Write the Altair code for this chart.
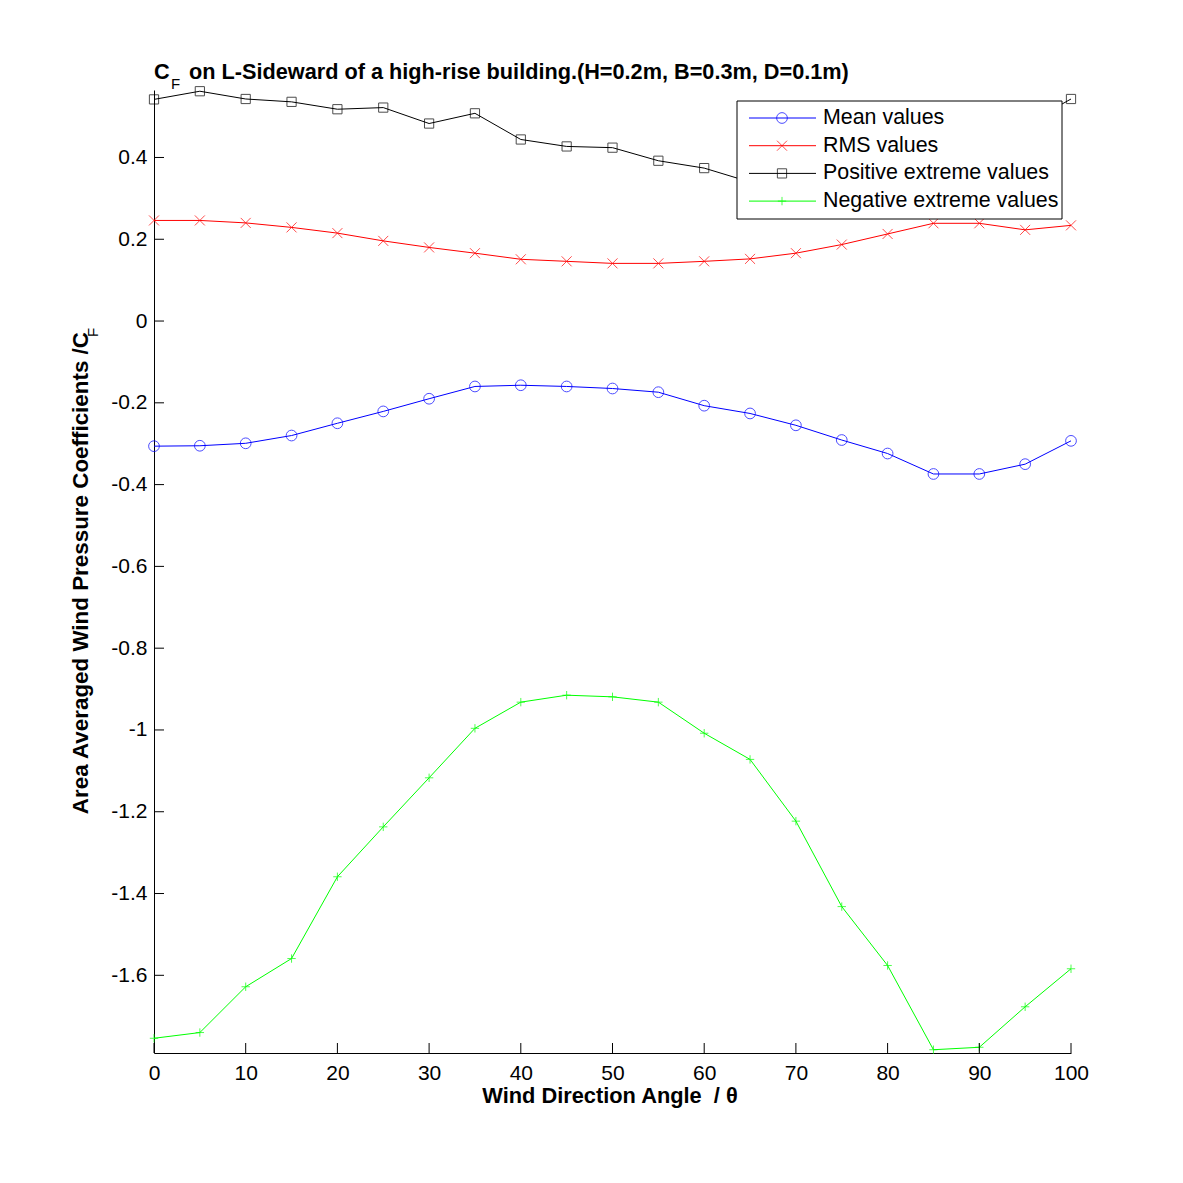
import altair as alt
import pandas as pd

# ---- data ----
angles = [0, 5, 10, 15, 20, 25, 30, 35, 40, 45, 50, 55, 60, 65, 70, 75, 80, 85, 90, 95, 100]
mean_vals = [-0.306, -0.305, -0.299, -0.280, -0.250, -0.221, -0.190, -0.160, -0.157, -0.160, -0.165,
             -0.174, -0.207, -0.226, -0.255, -0.291, -0.324, -0.374, -0.374, -0.350, -0.293]
rms_vals = [0.246, 0.246, 0.240, 0.229, 0.215, 0.196, 0.180, 0.166, 0.151, 0.146, 0.141,
            0.141, 0.146, 0.152, 0.166, 0.187, 0.213, 0.239, 0.239, 0.223, 0.234]
pos_vals = [0.542, 0.562, 0.543, 0.536, 0.518, 0.522, 0.483, 0.508, 0.444, 0.427, 0.424,
            0.392, 0.374, 0.340, 0.330, 0.360, 0.400, 0.440, 0.460, 0.480, 0.543]
neg_vals = [-1.754, -1.740, -1.628, -1.559, -1.359, -1.237, -1.117, -0.996, -0.932, -0.915, -0.919,
            -0.932, -1.008, -1.072, -1.223, -1.432, -1.576, -1.782, -1.776, -1.677, -1.584]

series_names = ["Mean values", "RMS values", "Positive extreme values", "Negative extreme values"]
series_colors = ["#0000ff", "#ff0000", "#000000", "#00ff00"]
series_shapes = ["circle", "M-1,-1L1,1M-1,1L1,-1", "square", "M-1,0H1M0,-1V1"]
series_sizes = [115, 70, 85, 160]

x_ticks = [0, 10, 20, 30, 40, 50, 60, 70, 80, 90, 100]
y_ticks = [-1.6, -1.4, -1.2, -1.0, -0.8, -0.6, -0.4, -0.2, 0.0, 0.2, 0.4]

title_main = "C"
title_sub = "F"
title_rest = "on L-Sideward of a high-rise building.(H=0.2m, B=0.3m, D=0.1m)"
ylabel_main = "Area Averaged Wind Pressure Coefficients /C"
ylabel_sub = "F"
xlabel = "Wind Direction Angle \u00a0/ \u03b8"

# ---- build tables ----
rows = []
for name, vals in zip(series_names, [mean_vals, rms_vals, pos_vals, neg_vals]):
    for a, v in zip(angles, vals):
        rows.append({"angle": a, "value": v, "series": name})
df = pd.DataFrame(rows)
legend_df = pd.DataFrame({"series": series_names, "idx": list(range(len(series_names)))})

W, H = 917, 963
FONT = "Liberation Sans"
TICK_FS = 21

xscale = alt.Scale(domain=[0, 100], nice=False, zero=False)
yscale = alt.Scale(domain=[-1.79, 0.565], nice=False, zero=False)
color = alt.Color("series:N", scale=alt.Scale(domain=series_names, range=series_colors), legend=None)
shape = alt.Shape("series:N", scale=alt.Scale(domain=series_names, range=series_shapes), legend=None)
size = alt.Size("series:N", scale=alt.Scale(domain=series_names, range=series_sizes), legend=None)

lab_expr = "datum.value < 0 ? '-' + format(-datum.value, '~g') : format(datum.value, '~g')"

base = alt.Chart(df)
lines = base.mark_line(strokeWidth=1).encode(
    x=alt.X("angle:Q", scale=xscale,
            axis=alt.Axis(values=x_ticks, title=None, ticks=False, grid=False, labelPadding=9,
                          labelFontSize=TICK_FS, labelFont=FONT, labelColor="black", labelFlush=False,
                          domainColor="black", domainWidth=1, labelExpr=lab_expr)),
    y=alt.Y("value:Q", scale=yscale,
            axis=alt.Axis(values=y_ticks, title=None, ticks=False, grid=False, labelPadding=7,
                          labelFontSize=TICK_FS, labelFont=FONT, labelColor="black", labelFlush=False,
                          domainColor="black", domainWidth=1, labelExpr=lab_expr)),
    color=color,
    detail="series:N",
    order="angle:Q",
)
points = base.mark_point(filled=False, strokeWidth=1).encode(
    x=alt.X("angle:Q", scale=xscale),
    y=alt.Y("value:Q", scale=yscale),
    color=color,
    shape=shape,
    size=size,
)

# inward ticks
yt = alt.Chart(pd.DataFrame({"value": y_ticks})).mark_rule(color="black", strokeWidth=1).encode(
    y=alt.Y("value:Q", scale=yscale), x=alt.value(0), x2=alt.value(10))
xt = alt.Chart(pd.DataFrame({"angle": x_ticks})).mark_rule(color="black", strokeWidth=1).encode(
    x=alt.X("angle:Q", scale=xscale), y=alt.value(H), y2=alt.value(H - 10))

# legend
one = pd.DataFrame({"k": [0]})
leg_box = alt.Chart(one).mark_rect(fill="white", stroke="black", strokeWidth=1).encode(
    x=alt.value(583), x2=alt.value(908), y=alt.value(11), y2=alt.value(129))
leg_base = alt.Chart(legend_df).transform_calculate(py="28 + datum.idx * 27.7")
leg_line = leg_base.mark_rule(strokeWidth=1).encode(
    x=alt.value(595), x2=alt.value(662), y=alt.Y("py:Q", scale=None), color=color)
leg_pt = leg_base.mark_point(filled=False, strokeWidth=1).encode(
    x=alt.value(628), y=alt.Y("py:Q", scale=None), color=color, shape=shape, size=size)
leg_txt = leg_base.mark_text(align="left", baseline="middle", fontSize=21.4, font=FONT, color="black").encode(
    x=alt.value(669), y=alt.Y("py:Q", scale=None), text="series:N")

# titles
def txt(s, x, y, size=21.7, bold=True, angle=0, align="left"):
    kw = dict(align=align, baseline="alphabetic", fontSize=size, font=FONT, color="black",
              fontWeight="bold" if bold else "normal")
    if angle:
        kw["angle"] = angle
    return alt.Chart(pd.DataFrame({"t": [s]})).mark_text(**kw).encode(
        text="t:N", x=alt.value(x), y=alt.value(y))

t1 = txt(title_main, 0, -11)
t2 = txt(title_sub, 17, -1, size=15, bold=False)
t3 = txt(title_rest, 35, -11)
yl1 = txt(ylabel_main, -66, 242, size=22.4, angle=270, align="right")
yl2 = txt(ylabel_sub, -56, 247, size=15, bold=False, angle=270, align="left")
xl = txt(xlabel, 456, 1013, size=21.8, align="center")

chart = alt.layer(
    lines, points, yt, xt, leg_box, leg_line, leg_pt, leg_txt, t1, t2, t3, yl1, yl2, xl
).properties(
    width=W, height=H,
    autosize=alt.AutoSizeParams(type="none"),
    padding={"left": 146, "top": 82, "right": 100, "bottom": 120},
    background="white",
).configure_view(strokeWidth=0)

chart.save("out.html", embed_options={"renderer": "svg", "actions": False})
